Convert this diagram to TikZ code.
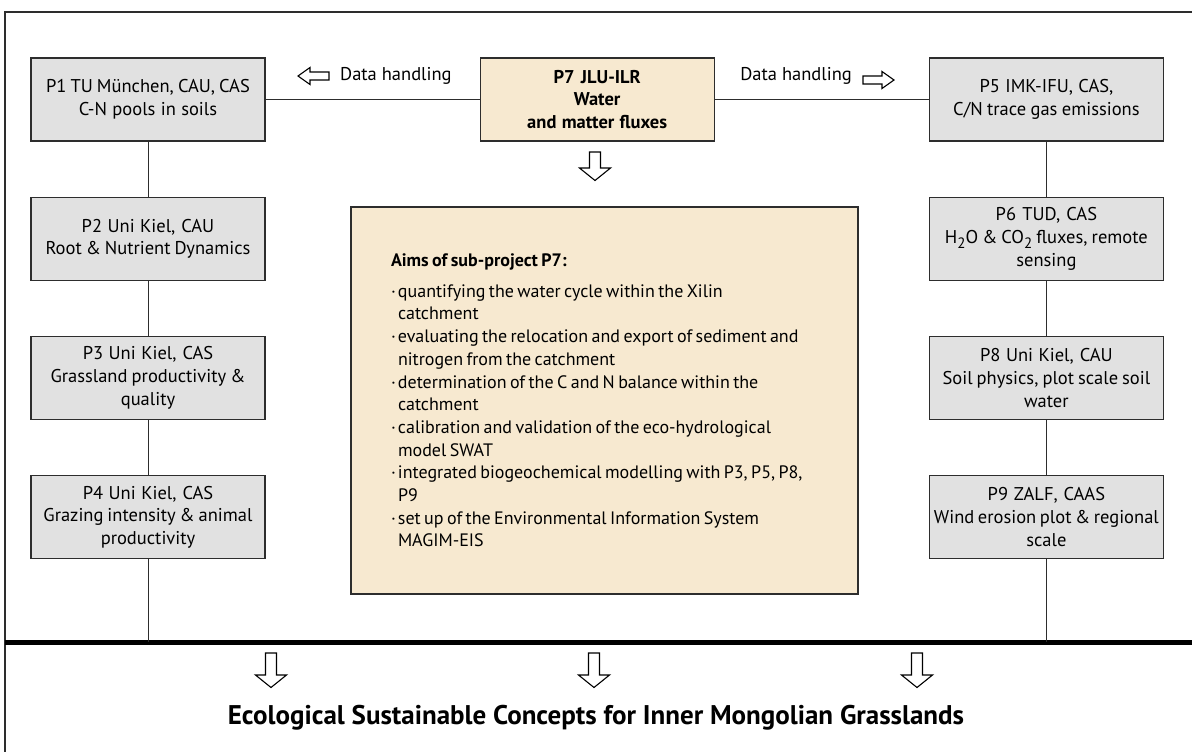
\documentclass[tikz,border=0pt]{standalone}
\usepackage{fontspec}
\setmainfont{PT Sans}
\usetikzlibrary{positioning}
\definecolor{boxgrey}{RGB}{225,225,225}
\definecolor{wheat}{RGB}{247,233,208}
\definecolor{edge}{RGB}{45,45,45}
\newcommand{\lowtwo}{\raisebox{-0.28em}{\fontsize{15}{15}\selectfont 2}}
\newcommand{\tightwords}{\spaceskip=0.19em plus 0.08em minus 0.04em\relax}
\newcommand{\aim}[1]{\par\hangindent=7pt\hangafter=1\noindent\makebox[7pt][l]{\textperiodcentered}#1\par}

\begin{document}
\begin{tikzpicture}[x=1pt,y=-1pt,font=\fontsize{18.5}{22.7}\selectfont,
  sub/.style={rectangle,draw=edge,line width=1.2pt,fill=boxgrey,minimum width=234pt,minimum height=83pt,text width=230pt,align=center,inner sep=0pt,
    execute at begin node=\tightwords},
  lead/.style={sub,fill=wheat},
  conn/.style={draw=edge,line width=1pt},
  hollow/.pic={\draw[line width=1.1pt,fill=white] (0,-4) -- (19,-4) -- (19,-8.5) -- (31,0) -- (19,8.5) -- (19,4) -- (0,4) -- cycle;},
  hollowv/.pic={\draw[line width=1.1pt,fill=white] (0,-5.5) -- (#1,-5.5) -- (#1,-15.5) -- (#1+12.5,0) -- (#1,15.5) -- (#1,5.5) -- (0,5.5) -- cycle;}]
  \useasboundingbox (0,0) rectangle (1192,752);
  % outer frame and base line
  \draw[line width=1.2pt,edge] (1200,12) -- (5,12) -- (5,760);
  \coordinate (baseL) at (5,642);
  \coordinate (baseR) at (1200,642);
  \draw[line width=5pt] (baseL) -- (baseR);
  % left column
  \node[sub] (p1) at (148,99.5) {P1 TU München, CAU, CAS\\C-N pools in soils};
  \node[sub,below=55pt of p1] (p2) {P2 Uni Kiel, CAU\\Root \& Nutrient Dynamics};
  \node[sub,below=55pt of p2] (p3) {P3 Uni Kiel, CAS\\Grassland productivity \&\\quality};
  \node[sub,below=55pt of p3] (p4) {P4 Uni Kiel, CAS\\Grazing intensity \& animal\\productivity};
  % centre
  \node[lead,font=\fontsize{18.5}{22.7}\selectfont\bfseries,right=214pt of p1] (p7) {P7 JLU-ILR\\Water\\and matter fluxes};
  \node[lead,minimum width=507pt,minimum height=387pt,text width=427pt,align=left,font=\fontsize{18}{22.7}\selectfont,
    execute at begin node={}] (aims) at (604.5,400.5)
    {\textbf{Aims of sub-project P7:}\par\vspace{8pt}
     \aim{quantifying the water cycle within the Xilin\newline catchment}
     \aim{evaluating the relocation and export of sediment and\newline nitrogen from the catchment}
     \aim{determination of the C and N balance within the\newline catchment}
     \aim{calibration and validation of the eco-hydrological\newline model SWAT}
     \aim{integrated biogeochemical modelling with P3, P5, P8,\newline P9}
     \aim{set up of the Environmental Information System\newline MAGIM-EIS}};
  % right column
  \node[sub,right=214pt of p7] (p5) {P5 IMK-IFU, CAS,\\C/N trace gas emissions};
  \node[sub,below=55pt of p5] (p6) {P6 TUD, CAS\\H\lowtwo O \& CO\lowtwo{} fluxes, remote\\sensing};
  \node[sub,below=55pt of p6] (p8) {P8 Uni Kiel, CAU\\Soil physics, plot scale soil\\water};
  \node[sub,below=55pt of p8] (p9) {P9 ZALF, CAAS\\Wind erosion plot \& regional\\scale};
  % data handling
  \node[anchor=base west,inner sep=0pt] (dhl) at (340,81) {Data handling};
  \pic[rotate=180] (al) at (329,76) {hollow};
  \node[anchor=base east,inner sep=0pt] (dhr) at (852,81) {Data handling};
  \pic (ar) at (863,80) {hollow};
  \pic[rotate=-90] (ad) at (595,152) {hollowv=16};
  % connectors
  \draw[conn] (p1) -- (p7);
  \draw[conn] (p7) -- (p5);
  \draw[conn] (p1) -- (p2);
  \draw[conn] (p2) -- (p3);
  \draw[conn] (p3) -- (p4);
  \draw[conn] (p4) -- (p4 |- baseL);
  \draw[conn] (p5) -- (p6);
  \draw[conn] (p6) -- (p8);
  \draw[conn] (p8) -- (p9);
  \draw[conn] (p9) -- (p9 |- baseL);
  % goal
  \foreach \x in {271,594,917}
    \pic[rotate=-90] at (\x,653) {hollowv=22};
  \node[font=\fontsize{27}{30}\selectfont\bfseries] (goal) at (596,718) {Ecological Sustainable Concepts for Inner Mongolian Grasslands};
\end{tikzpicture}
\end{document}
